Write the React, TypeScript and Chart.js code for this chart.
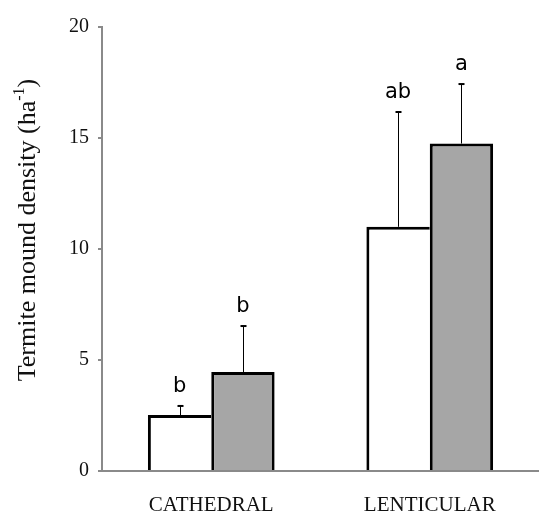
import React, { useEffect, useRef } from "react";
import { Chart, registerables } from "chart.js";

Chart.register(...registerables);

const categories = ["CATHEDRAL", "LENTICULAR"];
const seriesWhite = [2.52, 11.0];
const seriesGrey = [4.46, 14.75];
const errWhite = [0.41, 5.17];
const errGrey = [2.07, 2.68];
const lettersWhite = ["b", "ab"];
const lettersGrey = ["b", "a"];
const yMin = 0;
const yMax = 20;
const yStep = 5;
const yTitleMain = "Termite mound density (ha";
const yTitleSup = "-1";
const yTitleEnd = ")";

const SERIF = "'Liberation Serif', 'Times New Roman', serif";
const SANS = "'DejaVu Sans', sans-serif";
const AXIS = "#8a8a8a";

const errorPlugin = {
  id: "errorBars",
  afterDatasetsDraw(chart: any) {
    const ctx = chart.ctx;
    const yScale = chart.scales.y;
    const errs = [errWhite, errGrey];
    const letters = [lettersWhite, lettersGrey];
    chart.data.datasets.forEach((ds: any, i: number) => {
      const meta = chart.getDatasetMeta(i);
      meta.data.forEach((el: any, j: number) => {
        const v = ds.data[j];
        const top = yScale.getPixelForValue(v + errs[i][j]);
        const x = Math.round(el.x) + 0.5;
        ctx.save();
        ctx.strokeStyle = "#000";
        ctx.lineWidth = 1;
        ctx.beginPath();
        ctx.moveTo(x, el.y);
        ctx.lineTo(x, top);
        ctx.stroke();
        ctx.lineWidth = 2;
        ctx.beginPath();
        ctx.moveTo(x - 3, top);
        ctx.lineTo(x + 3, top);
        ctx.stroke();
        ctx.fillStyle = "#000";
        ctx.font = `21px ${SANS}`;
        ctx.textAlign = "center";
        ctx.textBaseline = "alphabetic";
        ctx.fillText(letters[i][j], el.x, top - 14);
        ctx.restore();
      });
    });
  },
};

const titlePlugin = {
  id: "yTitleCustom",
  afterDraw(chart: any) {
    const ctx = chart.ctx;
    ctx.save();
    ctx.translate(28, 230);
    ctx.rotate(-Math.PI / 2);
    ctx.fillStyle = "#111";
    ctx.textBaseline = "middle";
    ctx.textAlign = "left";
    const mainFont = `26px ${SERIF}`;
    const supFont = `16px ${SERIF}`;
    ctx.font = mainFont;
    const w1 = ctx.measureText(yTitleMain).width;
    const w3 = ctx.measureText(yTitleEnd).width;
    ctx.font = supFont;
    const w2 = ctx.measureText(yTitleSup).width;
    let x = -(w1 + w2 + w3) / 2;
    ctx.font = mainFont;
    ctx.fillText(yTitleMain, x, 0);
    x += w1;
    ctx.font = supFont;
    ctx.fillText(yTitleSup, x, -8);
    x += w2;
    ctx.font = mainFont;
    ctx.fillText(yTitleEnd, x, 0);
    ctx.restore();
  },
};

export default function App() {
  const ref = useRef<HTMLCanvasElement | null>(null);
  useEffect(() => {
    if (!ref.current) return;
    const chart = new Chart(ref.current, {
      type: "bar",
      data: {
        labels: categories,
        datasets: [
          {
            data: seriesWhite,
            backgroundColor: "#ffffff",
            borderColor: "#000000",
            borderWidth: { top: 3, left: 3, right: 0, bottom: 0 },
            borderSkipped: false,
            categoryPercentage: 0.58,
            barPercentage: 1,
          },
          {
            data: seriesGrey,
            backgroundColor: "#a6a6a6",
            borderColor: "#000000",
            borderWidth: { top: 3, left: 3, right: 3, bottom: 0 },
            borderSkipped: false,
            categoryPercentage: 0.58,
            barPercentage: 1,
          },
        ],
      } as any,
      options: {
        responsive: false,
        animation: false,
        layout: { padding: { top: 27, left: 0, right: 0, bottom: 0 } },
        plugins: {
          legend: { display: false },
          tooltip: { enabled: false },
        },
        scales: {
          x: {
            z: 1,
            grid: { display: false, drawTicks: false },
            border: { display: true, color: AXIS, width: 2 },
            ticks: {
              color: "#111",
              font: { family: SERIF, size: 21 },
              padding: 22,
            },
            afterFit(scale: any) {
              scale.height = 42;
            },
          },
          y: {
            z: 1,
            min: yMin,
            max: yMax,
            ticks: {
              stepSize: yStep,
              color: "#111",
              font: { family: SERIF, size: 20 },
              padding: 9,
            },
            grid: {
              drawOnChartArea: false,
              drawTicks: true,
              tickLength: 4,
              color: AXIS,
              lineWidth: 2,
            },
            border: { display: true, color: AXIS, width: 2 },
            afterFit(scale: any) {
              scale.width = 102;
            },
          },
        },
      } as any,
      plugins: [errorPlugin, titlePlugin],
    });
    return () => chart.destroy();
  }, []);
  return (
    <div style={{ position: "absolute", left: 0, top: 0, width: 539, height: 513, background: "#fff" }}>
      <canvas ref={ref} width={539} height={513} style={{ width: 539, height: 513 }} />
    </div>
  );
}
